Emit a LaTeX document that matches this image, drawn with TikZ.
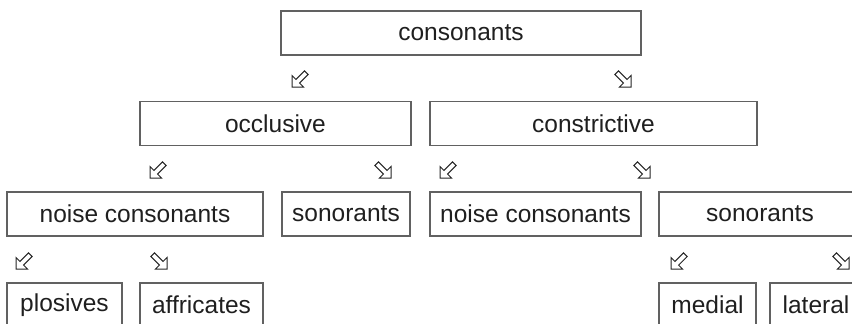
\documentclass[tikz,border=0pt]{standalone}
\usepackage{fontspec}
\setmainfont{Liberation Sans}
\begin{document}
\begin{tikzpicture}[x=1pt,y=-1pt,
  box/.style={draw=black!62, line width=1.4pt, inner sep=0pt, minimum height=44pt,
    text=black!88, font=\fontsize{24.5}{29}\selectfont},
  arrowglyph/.style={draw=black!85, fill=white, line width=1pt, line join=miter},
  dlarrow/.pic={\draw[arrowglyph] (0,0) -- (0,-11.5) -- (3.9,-7.6) -- (12.5,-16.2)
      -- (16.2,-12.5) -- (7.6,-3.9) -- (11.5,0) -- cycle;},
  drarrow/.pic={\draw[arrowglyph, xscale=-1] (0,0) -- (0,-11.5) -- (3.9,-7.6) -- (12.5,-16.2)
      -- (16.2,-12.5) -- (7.6,-3.9) -- (11.5,0) -- cycle;}
]
\useasboundingbox (0,0) rectangle (852,324);

% level 1
\node[box, minimum width=360pt] (cons) at (461,33) {consonants};

% level 2
\node[box, minimum width=271pt] (occ) at (275.5,123.5) {occlusive};
\node[box, minimum width=327pt] (constr) at (593.5,123.5) {constrictive};

% level 3
\node[box, minimum width=256pt] (noiseA) at (135,214) {noise consonants};
\node[box, minimum width=128pt] (sonA) at (346,214) {sonorants};
\node[box, minimum width=211pt] (noiseB) at (535.5,214) {noise consonants};
\node[box, minimum width=202pt] (sonB) at (760,214) {sonorants};

% level 4
\node[box, minimum width=115pt] (plos) at (64.5,305) {plosives};
\node[box, minimum width=123pt] (affr) at (201.5,305) {affricates};
\node[box, minimum width=97pt] (med) at (707.5,305) {medial};
\node[box, minimum width=92pt] (lat) at (816,305) {lateral};

% branching glyphs
\pic at (292,87) {dlarrow};
\pic at (631,87) {drarrow};
\pic at (150,178) {dlarrow};
\pic at (391,178) {drarrow};
\pic at (440,178) {dlarrow};
\pic at (650,178) {drarrow};
\pic at (16,269) {dlarrow};
\pic at (167,269) {drarrow};
\pic at (671,269) {dlarrow};
\pic at (849,269) {drarrow};
\end{tikzpicture}
\end{document}
